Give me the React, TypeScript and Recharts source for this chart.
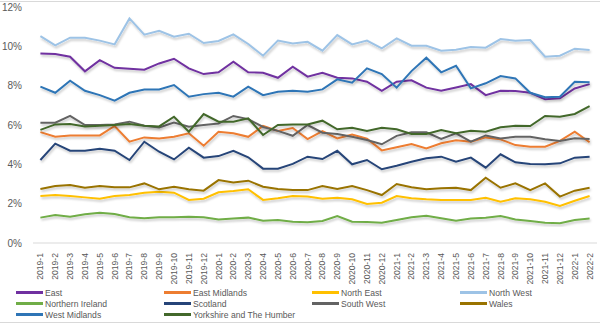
import React from "react";
import { LineChart, Line, XAxis, YAxis, Legend } from "recharts";

// monthly categories, 2019-1 .. 2022-2
const months = [
  "2019-1", "2019-2", "2019-3", "2019-4", "2019-5", "2019-6", "2019-7", "2019-8", "2019-9", "2019-10", "2019-11", "2019-12",
  "2020-1", "2020-2", "2020-3", "2020-4", "2020-5", "2020-6", "2020-7", "2020-8", "2020-9", "2020-10", "2020-11", "2020-12",
  "2021-1", "2021-2", "2021-3", "2021-4", "2021-5", "2021-6", "2021-7", "2021-8", "2021-9", "2021-10", "2021-11", "2021-12",
  "2022-1", "2022-2",
];

const east = [9.64, 9.61, 9.47, 8.73, 9.3, 8.91, 8.86, 8.81, 9.13, 9.37, 8.88, 8.59, 8.68, 9.22, 8.68, 8.66, 8.4, 8.96, 8.46, 8.66, 8.4, 8.37, 8.2, 7.74, 8.2, 8.27, 7.9, 7.74, 7.91, 8.08, 7.52, 7.74, 7.73, 7.64, 7.31, 7.36, 7.86, 8.08];
const eastMidlands = [5.64, 5.4, 5.47, 5.47, 5.47, 5.95, 5.15, 5.37, 5.32, 5.4, 5.58, 4.95, 5.66, 5.58, 5.4, 5.95, 5.7, 5.85, 5.28, 5.69, 5.32, 5.51, 5.3, 4.71, 4.87, 5.03, 4.81, 5.07, 5.22, 5.15, 5.37, 5.27, 4.98, 4.9, 4.9, 5.19, 5.66, 5.12];
const northEast = [2.39, 2.44, 2.39, 2.32, 2.25, 2.39, 2.44, 2.56, 2.61, 2.56, 2.19, 2.25, 2.58, 2.64, 2.73, 2.19, 2.27, 2.39, 2.36, 2.25, 2.3, 2.22, 1.98, 2.05, 2.39, 2.27, 2.22, 2.19, 2.19, 2.19, 2.3, 2.1, 2.27, 2.22, 2.1, 1.88, 2.15, 2.39];
const northWest = [10.52, 10.05, 10.44, 10.44, 10.29, 10.1, 11.42, 10.59, 10.79, 10.49, 10.64, 10.17, 10.27, 10.61, 10.12, 9.52, 10.29, 10.15, 10.23, 9.78, 10.57, 10.1, 10.29, 9.9, 10.4, 10.03, 10.03, 9.78, 9.83, 9.96, 9.93, 10.37, 10.29, 10.32, 9.47, 9.52, 9.88, 9.81];
const northernIreland = [1.29, 1.42, 1.34, 1.46, 1.54, 1.47, 1.31, 1.26, 1.31, 1.31, 1.34, 1.31, 1.2, 1.24, 1.29, 1.13, 1.17, 1.08, 1.05, 1.12, 1.37, 1.08, 1.07, 1.03, 1.17, 1.31, 1.39, 1.26, 1.13, 1.24, 1.29, 1.37, 1.2, 1.12, 1.03, 1.0, 1.17, 1.24];
const scotland = [4.22, 5.05, 4.69, 4.69, 4.79, 4.69, 4.22, 5.15, 4.64, 4.25, 4.85, 4.34, 4.42, 4.69, 4.36, 3.78, 3.78, 4.02, 4.39, 4.27, 4.69, 4.0, 4.22, 3.75, 3.93, 4.13, 4.31, 4.39, 4.13, 4.34, 3.83, 4.51, 4.1, 4.02, 4.0, 4.05, 4.34, 4.39];
const southWest = [6.12, 6.12, 6.46, 6.0, 6.0, 6.03, 6.17, 5.96, 5.88, 6.12, 5.91, 6.0, 6.08, 6.46, 6.3, 5.9, 5.7, 5.45, 6.0, 5.61, 5.54, 5.4, 5.24, 5.02, 5.45, 5.63, 5.63, 5.29, 5.58, 5.15, 5.47, 5.32, 5.4, 5.4, 5.27, 5.19, 5.32, 5.29];
const wales = [2.75, 2.9, 2.95, 2.81, 2.9, 2.83, 2.83, 3.03, 2.73, 2.86, 2.73, 2.66, 3.2, 3.08, 3.17, 2.86, 2.75, 2.69, 2.69, 2.9, 2.75, 2.9, 2.69, 2.44, 3.0, 2.83, 2.73, 2.78, 2.81, 2.69, 3.32, 2.81, 3.03, 2.69, 3.03, 2.36, 2.66, 2.81];
const westMidlands = [7.95, 7.64, 8.25, 7.74, 7.52, 7.24, 7.64, 7.81, 7.81, 8.03, 7.44, 7.57, 7.64, 7.44, 7.95, 7.52, 7.69, 7.74, 7.69, 7.81, 8.32, 8.15, 8.88, 8.59, 7.9, 8.74, 9.42, 8.68, 9.01, 7.86, 8.12, 8.49, 8.37, 7.64, 7.41, 7.44, 8.2, 8.17];
const yorkshire = [5.75, 6.03, 6.05, 5.93, 5.96, 6.0, 6.05, 5.96, 5.93, 6.42, 5.66, 6.56, 6.17, 6.17, 6.34, 5.49, 6.0, 6.03, 6.03, 6.22, 5.78, 5.86, 5.69, 5.86, 5.78, 5.54, 5.54, 5.74, 5.58, 5.71, 5.66, 5.88, 5.96, 5.95, 6.46, 6.42, 6.56, 6.96];

const yTicks = [0, 2, 4, 6, 8, 10, 12];

const series = [
  { key: "East", values: east, color: "#7030A0" },
  { key: "East Midlands", values: eastMidlands, color: "#ED7D31" },
  { key: "North East", values: northEast, color: "#FFC000" },
  { key: "North West", values: northWest, color: "#9DC3E6" },
  { key: "Northern Ireland", values: northernIreland, color: "#70AD47" },
  { key: "Scotland", values: scotland, color: "#264478" },
  { key: "South West", values: southWest, color: "#636363" },
  { key: "Wales", values: wales, color: "#997300" },
  { key: "West Midlands", values: westMidlands, color: "#2E75B6" },
  { key: "Yorkshire and The Humber", values: yorkshire, color: "#43682B" },
];

const data = months.map((m, i) => {
  const row: Record<string, string | number> = { month: m };
  series.forEach((s) => (row[s.key] = s.values[i]));
  return row;
});

const FONT = "'Liberation Sans', Arial, sans-serif";
const TEXT = "#595959";

function MonthTick(props: any) {
  const { x, y, payload } = props;
  const ty = y + 2;
  return (
    <text
      x={x}
      y={ty}
      transform={`rotate(-90, ${x}, ${ty})`}
      textAnchor="end"
      dy="0.35em"
      fill={TEXT}
      fontSize={8.6}
      fontFamily={FONT}
    >
      {payload.value}
    </text>
  );
}

function LegendBox() {
  return (
    <div style={{ position: "relative", width: 600, height: 38 }}>
      {series.map((s, i) => {
        const col = i % 4;
        const row = Math.floor(i / 4);
        return (
          <div
            key={s.key}
            style={{
              position: "absolute",
              left: 16 + col * 148,
              top: row * 11,
              height: 11,
              display: "flex",
              alignItems: "center",
              whiteSpace: "nowrap",
            }}
          >
            <span style={{ display: "inline-block", width: 27, height: 2.5, background: s.color }} />
            <span style={{ marginLeft: 2, fontSize: 8.6, color: TEXT, fontFamily: FONT }}>{s.key}</span>
          </div>
        );
      })}
    </div>
  );
}

export default function App() {
  return (
    <div style={{ position: "absolute", left: 0, top: 0, width: 600, height: 325, background: "#fff" }}>
      <div style={{ position: "absolute", left: 0, top: 1, width: 600, height: 1, background: "#D9D9D9" }} />
      <div style={{ position: "absolute", left: 0, top: 322, width: 600, height: 1, background: "#D9D9D9" }} />
      <LineChart width={600} height={325} data={data} margin={{ top: 7, right: 3, left: 0, bottom: 0 }}>
        <defs>
          <filter id="lineShadow" x="-5%" y="-30%" width="110%" height="160%">
            <feDropShadow dx="1" dy="2" stdDeviation="1.2" floodColor="#000" floodOpacity="0.22" />
          </filter>
        </defs>
        <XAxis
          dataKey="month"
          interval={0}
          height={44}
          padding={{ left: 7.4, right: 7.4 }}
          tickLine={false}
          axisLine={{ stroke: "#D9D9D9" }}
          tick={<MonthTick />}
        />
        <YAxis
          width={33}
          domain={[0, 12]}
          ticks={yTicks}
          tickFormatter={(v) => `${v}%`}
          tickLine={false}
          axisLine={false}
          tickMargin={5}
          tick={{ fill: TEXT, fontSize: 10, fontFamily: FONT }}
        />
        <Legend verticalAlign="bottom" align="left" wrapperStyle={{ left: 0 }} content={() => <LegendBox />} />
        {series.map((s) => (
          <Line
            key={s.key}
            dataKey={s.key}
            stroke={s.color}
            strokeWidth={2}
            dot={false}
            activeDot={false}
            filter="url(#lineShadow)"
            isAnimationActive={false}
          />
        ))}
      </LineChart>
    </div>
  );
}
